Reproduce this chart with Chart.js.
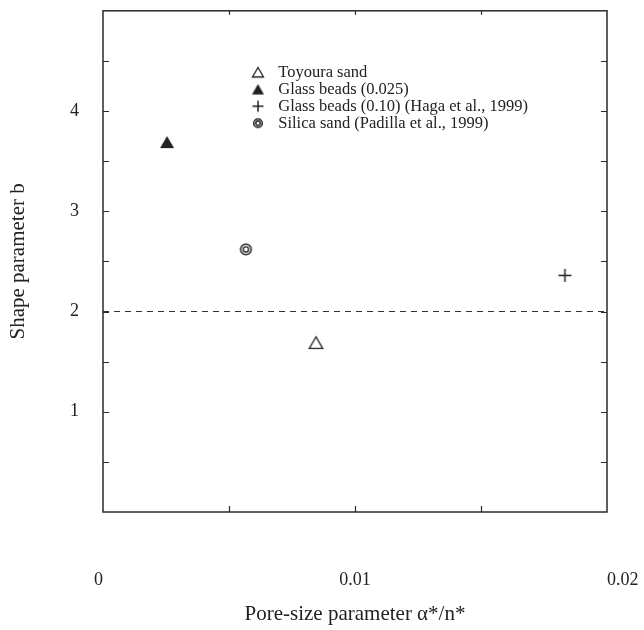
<!DOCTYPE html>
<html><head><meta charset="utf-8">
<script src="https://cdn.jsdelivr.net/npm/chart.js@4.4.0/dist/chart.umd.min.js"></script>
<style>html,body{margin:0;padding:0;background:#fff;}#wrap{width:644px;height:630px;}</style>
</head><body><div id="wrap"><canvas id="c" width="644" height="630"></canvas></div>
<script>
// ---- data ----
const seriesNames = ['Toyoura sand', 'Glass beads (0.025)', 'Glass beads (0.10) (Haga et al., 1999)', 'Silica sand (Padilla et al., 1999)'];
const poreSize = [0.00845, 0.00254, 0.01833, 0.00567];   // alpha*/n*
const shapeB   = [1.69, 3.69, 2.36, 2.62];               // b
const refLineX = [0, 0.02];
const refLineY = [2, 2];
const xTickValues = [0, 0.01, 0.02];
const xTickText   = ['0\u2002', '0.01', '\u2003\u2002\u00a00.02'];
const yTickLabels = [1, 2, 3, 4];

const INK = '#222';
const FONT = "'Liberation Serif', 'Times New Roman', serif";

function makeMarker(kind, s) {
  const size = Math.ceil(s * 1.4) + 4;
  const cv = document.createElement('canvas');
  cv.width = size; cv.height = size;
  const g = cv.getContext('2d');
  const c = size / 2;
  g.strokeStyle = INK; g.fillStyle = INK;
  if (kind === 'openTri' || kind === 'fillTri') {
    const w = s, h = s * 0.86;
    g.beginPath();
    g.moveTo(c, c - h / 2);
    g.lineTo(c + w / 2, c + h / 2);
    g.lineTo(c - w / 2, c + h / 2);
    g.closePath();
    if (kind === 'fillTri') { g.fill(); }
    else { g.lineWidth = 1.3; g.stroke(); }
  } else if (kind === 'plus') {
    g.lineWidth = 1.5;
    g.beginPath();
    g.moveTo(c - s / 2, c); g.lineTo(c + s / 2, c);
    g.moveTo(c, c - s / 2); g.lineTo(c, c + s / 2);
    g.stroke();
  } else if (kind === 'dcircle') {
    g.lineWidth = 1.5;
    g.beginPath(); g.arc(c, c, s / 2 - 0.7, 0, Math.PI * 2); g.stroke();
    g.lineWidth = 1.4;
    g.beginPath(); g.arc(c, c, s / 4.5, 0, Math.PI * 2); g.stroke();
  }
  return cv;
}
const kinds = ['openTri', 'fillTri', 'plus', 'dcircle'];
const plotSizes = [13.5, 14, 13, 12];
const legendSizes = [11, 12, 11, 10];
const plotMarkers = kinds.map((k, i) => makeMarker(k, plotSizes[i]));
const legendMarkers = kinds.map((k, i) => makeMarker(k, legendSizes[i]));

const datasets = seriesNames.map((name, i) => ({
  type: 'scatter',
  label: name,
  data: [{ x: poreSize[i], y: shapeB[i] }],
  pointStyle: plotMarkers[i],
  pointRadius: 7,
  borderColor: INK,
  backgroundColor: INK
}));
datasets.push({
  type: 'line',
  label: 'b = 2',
  data: refLineX.map((x, i) => ({ x, y: refLineY[i] })),
  borderColor: '#333',
  borderWidth: 1.2,
  borderDash: [6, 5],
  pointRadius: 0,
  fill: false
});

const near = (v, arr) => arr.findIndex(a => Math.abs(a - v) < 1e-9);

const framePlugin = {
  id: 'frame',
  afterDatasetsDraw(chart) {
    const { ctx, chartArea: a, scales } = chart;
    ctx.save();
    ctx.strokeStyle = '#2a2a2a';
    ctx.lineWidth = 1.5;
    ctx.strokeRect(a.left, a.top, a.right - a.left, a.bottom - a.top);
    ctx.lineWidth = 1.2;
    ctx.beginPath();
    scales.x.ticks.forEach(t => {
      if (t.value <= 0 || t.value >= 0.02 - 1e-9) return;
      const px = Math.round(scales.x.getPixelForValue(t.value)) + 0.5;
      ctx.moveTo(px, a.bottom); ctx.lineTo(px, a.bottom - 6);
      ctx.moveTo(px, a.top); ctx.lineTo(px, a.top + 4);
    });
    scales.y.ticks.forEach(t => {
      if (t.value <= 0 || t.value >= 5) return;
      const py = Math.round(scales.y.getPixelForValue(t.value)) + 0.5;
      ctx.moveTo(a.left, py); ctx.lineTo(a.left + 6, py);
      ctx.moveTo(a.right, py); ctx.lineTo(a.right - 6, py);
    });
    ctx.stroke();
    ctx.restore();
  }
};

const legendPos = {
  id: 'legendPos',
  afterLayout(chart) {
    const lg = chart.legend;
    if (!lg) return;
    const w = lg.right - lg.left, h = lg.bottom - lg.top;
    lg.left = 245.5; lg.top = 63.5;
    lg.right = lg.left + w; lg.bottom = lg.top + h;
  }
};

const hiddenGrid = (len) => ({
  display: true,
  drawOnChartArea: false,
  drawTicks: true,
  tickLength: len,
  color: 'rgba(0,0,0,0)',
  tickColor: 'rgba(0,0,0,0)'
});

new Chart(document.getElementById('c'), {
  data: { datasets },
  plugins: [framePlugin, legendPos],
  options: {
    responsive: false,
    animation: false,
    devicePixelRatio: 1,
    layout: { padding: { left: 0, right: 37, top: 10, bottom: 0 } },
    plugins: {
      tooltip: { enabled: false },
      legend: {
        position: 'chartArea',
        align: 'start',
        labels: {
          usePointStyle: true,
          pointStyleWidth: 24,
          boxHeight: 10,
          padding: 0.5,
          color: INK,
          font: { family: FONT, size: 16.5 },
          filter: (item) => item.datasetIndex < seriesNames.length,
          generateLabels(chart) {
            const items = Chart.defaults.plugins.legend.labels.generateLabels(chart);
            items.forEach(it => { if (it.datasetIndex < legendMarkers.length) it.pointStyle = legendMarkers[it.datasetIndex]; });
            return items;
          }
        }
      }
    },
    scales: {
      x: {
        type: 'linear',
        position: 'bottom',
        min: 0, max: 0.02,
        afterFit(s) { s.height = 118; },
        grid: hiddenGrid(57),
        border: { display: false },
        ticks: {
          stepSize: 0.005,
          padding: 0,
          color: INK,
          maxRotation: 0,
          autoSkip: false,
          font: { family: FONT, size: 18 },
          callback: (v) => { const k = near(v, xTickValues); return k >= 0 ? xTickText[k] : ''; }
        },
        title: {
          display: true,
          text: 'Pore-size parameter α*/n*',
          color: INK,
          font: { family: FONT, size: 21 },
          padding: { top: 0, bottom: 2.5 }
        }
      },
      y: {
        type: 'linear',
        position: 'left',
        min: 0, max: 5,
        afterFit(s) { s.width = 103; },
        grid: hiddenGrid(24),
        border: { display: false },
        ticks: {
          stepSize: 0.5,
          padding: 0,
          color: INK,
          autoSkip: false,
          font: { family: FONT, size: 18 },
          callback: (v) => near(v, yTickLabels) >= 0 ? String(v) : ''
        },
        title: {
          display: true,
          text: 'Shape parameter b',
          color: INK,
          font: { family: FONT, size: 21 },
          padding: { top: 5.5, bottom: 0 }
        }
      }
    }
  }
});
</script>
</body></html>
